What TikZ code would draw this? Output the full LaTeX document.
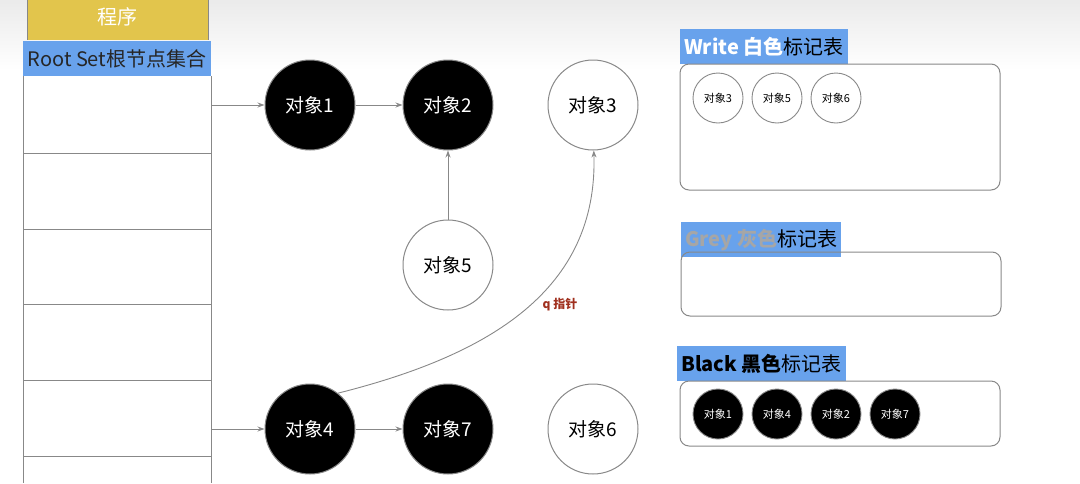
\documentclass[tikz,border=0pt]{standalone}
\usepackage{fontspec}
\setmainfont{Noto Sans CJK SC}
\usetikzlibrary{arrows.meta}
\definecolor{hdrblue}{HTML}{68A2EC}
\definecolor{progyellow}{HTML}{E2C54C}
\definecolor{linegray}{HTML}{888888}
\definecolor{ptrred}{HTML}{A0301E}
\newcommand{\fs}[1]{\fontsize{#1}{#1}\selectfont}

\begin{document}
\begin{tikzpicture}[x=1pt, y=-1pt,
        obj/.style={circle, draw=linegray, line width=1pt, minimum size=90pt, inner sep=0pt, font=\fs{19}},
        blk/.style={obj, fill=black, text=white},
        tag/.style={circle, draw=linegray, line width=0.9pt, minimum size=50pt, inner sep=0pt, font=\fs{11}},
        blktag/.style={tag, fill=black, text=white},
        hdr/.style={fill=hdrblue, anchor=north west, minimum height=35pt, inner xsep=4pt, inner ysep=0pt, font=\fs{20}},
        marktable/.style={draw=linegray, line width=1pt, rounded corners=9pt},
        ptr/.style={draw=linegray, line width=0.9pt, -{Stealth[length=7pt,width=5pt]}},
    ]
    \useasboundingbox (0,0) rectangle (1080,483);
    \shade[top color=black!8, bottom color=white] (0,0) rectangle (1080,70);

    % Program and root set column
    \fill[progyellow] (27,-2) rectangle (208,40);
    \draw[linegray] (27,-2) -- (27,40) (208,-2) -- (208,40);
    \node[text=white, font=\fs{20}] (prog) at (117.5,17) {程序};
    \draw[linegray, line width=1pt] (23,76) -- (23,483) (211,76) -- (211,483);
    \foreach \y in {153,229,304,380,456} \draw[linegray, line width=1pt] (23,\y) -- (211,\y);
    \fill[hdrblue] (23,41) rectangle (211,76);
    \node[font=\fs{20}, text=black!85] (root) at (117,59) {Root Set根节点集合};
    \coordinate (r1) at (211,105);
    \coordinate (r4) at (211,429);

    % Objects
    \node[blk] (obj1) at (310,105) {对象1};
    \node[blk] (obj2) at (448,105) {对象2};
    \node[obj] (obj3) at (593,105) {对象3};
    \node[obj] (obj5) at (448,265) {对象5};
    \node[blk] (obj4) at (310,429) {对象4};
    \node[blk] (obj7) at (448,429) {对象7};
    \node[obj] (obj6) at (593,429) {对象6};

    % References
    \draw[ptr] (r1) -- (obj1);
    \draw[ptr] (r4) -- (obj4);
    \draw[ptr] (obj1) -- (obj2);
    \draw[ptr] (obj5) -- (obj2);
    \draw[ptr] (obj4) -- (obj7);
    \draw[ptr] (obj4.52) .. controls (490,355) and (598,290) .. (obj3.271);
    \node[text=ptrred, font=\bfseries\fs{12}] (q) at (560,305) {q 指针};

    % White table
    \node[hdr] (wh) at (680,29) {\textbf{\color{white}Write 白色}标记表};
    \draw[marktable] (680,64) rectangle (1000,190);
    \foreach \n/\x in {3/718,5/777,6/836} \node[tag] (w\n) at (\x,98) {对象\n};

    % Grey table
    \node[hdr] (gh) at (681,222) {\textbf{\color{black!35}Grey 灰色}标记表};
    \draw[marktable] (681,252) rectangle (1001,316);

    % Black table
    \node[hdr] (bh) at (677,346) {\textbf{Black 黑色}标记表};
    \draw[marktable] (680,381) rectangle (1000,446);
    \foreach \n/\x in {1/718,4/777,2/836,7/895} \node[blktag] (b\n) at (\x,414) {对象\n};
\end{tikzpicture}
\end{document}
